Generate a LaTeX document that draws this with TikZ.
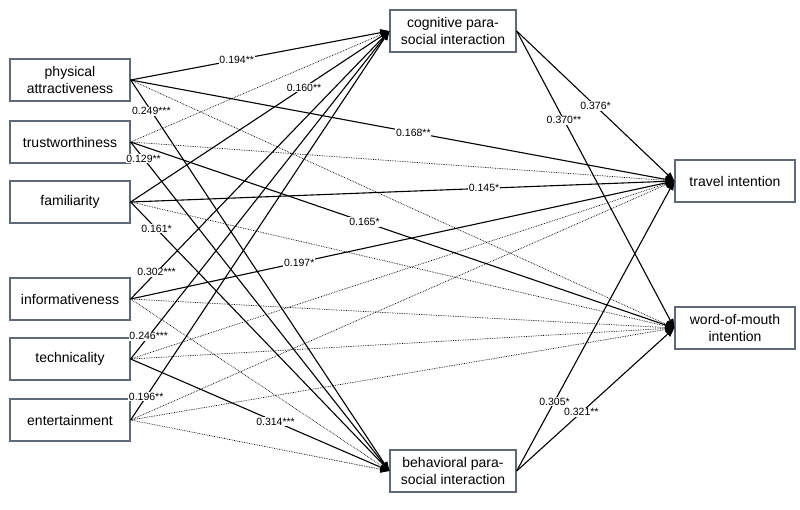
\documentclass[tikz,border=0pt]{standalone}
\usepackage{fontspec}
\setmainfont{Liberation Sans}
\usetikzlibrary{arrows.meta}
\definecolor{boxc}{RGB}{95,105,120}
\begin{document}
\begin{tikzpicture}[x=1pt,y=-1pt,
  box/.style={draw=boxc,line width=1.3pt,minimum width=120pt,minimum height=42pt,align=center,font=\fontsize{14}{17}\selectfont,inner sep=1pt},
  sig/.style={line width=1.1pt,-{Triangle[length=9pt,width=7pt]}},
  ns/.style={densely dotted,line width=0.7pt,-{Triangle[length=9pt,width=7pt]}},
  lab/.style={fill=white,inner sep=0.8pt,font=\fontsize{10.5}{12}\selectfont}]
\useasboundingbox (0,0) rectangle (800,509);
\node[box] (pa) at (70,80) {physical\\attractiveness};
\node[box] (tw) at (70,142) {trustworthiness};
\node[box] (fa) at (70,202) {familiarity};
\node[box] (in) at (70,299) {informativeness};
\node[box] (te) at (70,359) {technicality};
\node[box] (en) at (70,420) {entertainment};
\node[box,minimum width=126pt] (cog) at (453,31) {cognitive para-\\social interaction};
\node[box,minimum width=126pt] (beh) at (453,471) {behavioral para-\\social interaction};
\node[box] (tr) at (735,181) {travel intention};
\node[box] (wm) at (735,328) {word-of-mouth\\intention};
% to cognitive
\draw[sig] (pa.east) -- node[lab,pos=.41]{0.194**} (cog.west);
\draw[ns] (tw.east) -- (cog.west);
\draw[sig] (fa.east) -- node[lab,pos=.67]{0.160**} (cog.west);
\draw[sig] (in.east) -- node[lab,pos=.1]{0.302***} (cog.west);
\draw[sig] (te.east) -- node[lab,pos=.07]{0.246***} (cog.west);
\draw[sig] (en.east) -- node[lab,pos=.06]{0.196**} (cog.west);
% to behavioral
\draw[sig] (pa.east) -- node[lab,pos=.08]{0.249***} (beh.west);
\draw[sig] (tw.east) -- node[lab,pos=.05]{0.129**} (beh.west);
\draw[sig] (fa.east) -- node[lab,pos=.1]{0.161*} (beh.west);
\draw[ns] (in.east) -- (beh.west);
\draw[sig] (te.east) -- node[lab,pos=.56]{0.314***} (beh.west);
\draw[ns] (en.east) -- (beh.west);
% to travel
\draw[sig] (pa.east) -- node[lab,pos=.52]{0.168**} (tr.west);
\draw[ns] (tw.east) -- (tr.west);
\draw[sig] (fa.east) -- node[lab,pos=.65]{0.145*} (tr.west);
\draw[sig] (in.east) -- node[lab,pos=.31]{0.197*} (tr.west);
\draw[ns] (te.east) -- (tr.west);
\draw[ns] (en.east) -- (tr.west);
% to WOM
\draw[ns] (pa.east) -- (wm.west);
\draw[sig] (tw.east) -- node[lab,pos=.43]{0.165*} (wm.west);
\draw[ns] (fa.east) -- (wm.west);
\draw[ns] (in.east) -- (wm.west);
\draw[ns] (te.east) -- (wm.west);
\draw[ns] (en.east) -- (wm.west);
% mediators
\draw[sig] (cog.east) -- node[lab,pos=.5]{0.376*} (tr.west);
\draw[sig] (cog.east) -- node[lab,pos=.3]{0.370**} (wm.west);
\draw[sig] (beh.east) -- node[lab,pos=.24]{0.305*} (tr.west);
\draw[sig] (beh.east) -- node[lab,pos=.41]{0.321**} (wm.west);
\end{tikzpicture}
\end{document}
